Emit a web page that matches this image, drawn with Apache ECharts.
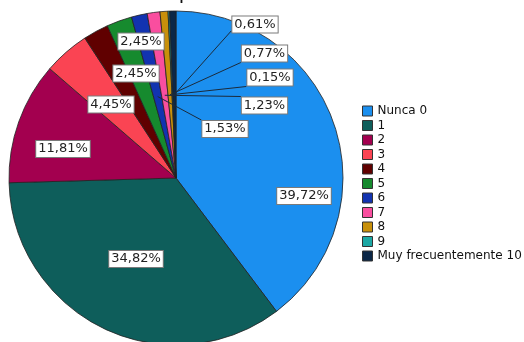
<!DOCTYPE html>
<html><head><meta charset="utf-8">
<script src="https://cdn.jsdelivr.net/npm/echarts@6/dist/echarts.min.js"></script>
<style>html,body{margin:0;padding:0;background:#fff}#c{width:524px;height:342px}</style>
</head><body><div id="c"></div>
<script>
// ---- data ----
const categories = ['Nunca 0','1','2','3','4','5','6','7','8','9','Muy frecuentemente 10'];
const percentages = [39.72, 34.82, 11.81, 4.45, 2.45, 2.45, 1.53, 1.23, 0.77, 0.15, 0.61];
const titleText = 'Frecuencia de respuesta';

// ---- styling / layout (not data) ----
const colors = ['#1B8FEF','#0E5E5B','#A3004F','#FA4453','#600000','#168A2E','#1233B0','#F94E9F','#C8900B','#1BA7A4','#0B2747'];
const center = [176, 178];
const radius = 167;
// label box centres in pixels
const labelPos = [[304,196],[136,259],[63,149],[111,104.5],[136,73.5],[141,41.5],[225,129],[264.5,105.5],[264.5,53.5],[270,77.5],[255,24.5]];
// which corner of the label box the leader line reaches (for outside labels)
const lineAnchor = [null,null,null,null,null,null,['l','t'],['l','t'],['l','b'],['l','b'],['l',0.85]];
const insideIdx = [0,1,2,3,4,5];

const fmt = v => v.toFixed(2).replace('.', ',') + '%';
const boxLabel = {
  fontFamily: 'DejaVu Sans', fontSize: 13, color: '#222',
  backgroundColor: '#fff', borderColor: '#7a7a7a', borderWidth: 1,
  padding: [2, 2, 1, 2]
};

const mainData = categories.map((n, i) => ({
  name: n, value: percentages[i],
  itemStyle: { color: colors[i] },
  label: { show: insideIdx.includes(i) }
}));
const helperData = categories.map((n, i) => ({
  name: n, value: percentages[i],
  label: { show: !insideIdx.includes(i) },
  labelLine: { show: !insideIdx.includes(i) }
}));

const chart = echarts.init(document.getElementById('c'), null, { renderer: 'canvas' });
chart.setOption({
  animation: false,
  title: {
    text: titleText, left: -2, top: -21,
    textStyle: { fontFamily: 'DejaVu Sans', fontSize: 20, fontWeight: 'normal', color: '#111' }
  },
  legend: {
    orient: 'vertical', left: 362, top: 104, padding: 0,
    itemWidth: 10, itemHeight: 10, itemGap: 0.5,
    icon: 'rect',
    data: categories,
    textStyle: { fontFamily: 'DejaVu Sans', fontSize: 12, lineHeight: 14, color: '#111' },
    itemStyle: { borderColor: '#333', borderWidth: 1 }
  },
  series: [
    {
      type: 'pie', center: center, radius: radius, startAngle: 90, clockwise: true,
      avoidLabelOverlap: false, silent: true,
      itemStyle: { borderColor: '#222', borderWidth: 0.8 },
      label: Object.assign({ position: 'inside', formatter: p => fmt(p.value) }, boxLabel),
      labelLine: { show: false },
      labelLayout: p => {
        const xy = labelPos[p.dataIndex];
        return { x: xy[0], y: xy[1], align: 'center', verticalAlign: 'middle' };
      },
      data: mainData
    },
    {
      type: 'pie', center: center, radius: radius / 2, startAngle: 90, clockwise: true,
      avoidLabelOverlap: false, silent: true, z: 3,
      itemStyle: { color: 'rgba(0,0,0,0)', borderWidth: 0 },
      label: Object.assign({ position: 'outside', formatter: p => fmt(p.value) }, boxLabel),
      labelLine: { show: true, length: 10, length2: 10, lineStyle: { color: '#1b2b3b', width: 1 } },
      labelLayout: p => {
        const i = p.dataIndex;
        const xy = labelPos[i];
        const res = { x: xy[0], y: xy[1], align: 'center', verticalAlign: 'middle' };
        const a = lineAnchor[i];
        if (a && p.labelLinePoints) {
          const w = p.labelRect.width, h = p.labelRect.height;
          const ex = xy[0] - w / 2;
          let ey;
          if (a[1] === 't') ey = xy[1] - h / 2;
          else if (a[1] === 'b') ey = xy[1] + h / 2;
          else ey = xy[1] - h / 2 + h * a[1];
          res.labelLinePoints = [p.labelLinePoints[0], [ex, ey]];
        }
        return res;
      },
      data: helperData
    }
  ]
});
</script></body></html>
